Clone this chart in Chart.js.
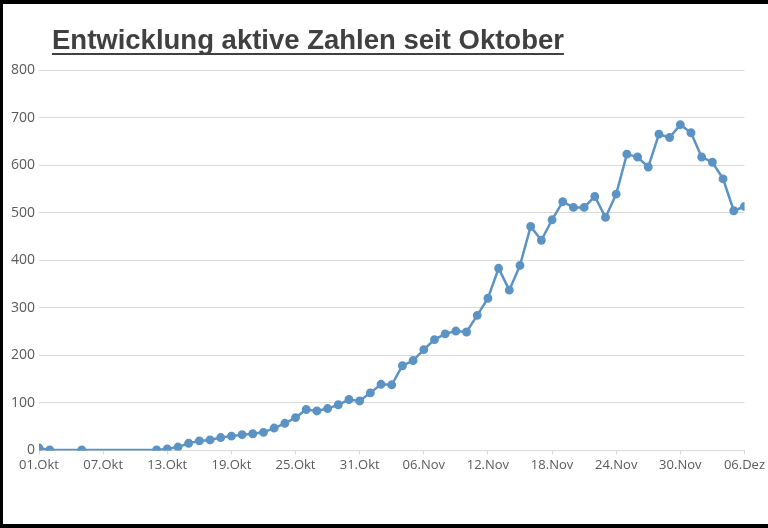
<!DOCTYPE html>
<html><head><meta charset="utf-8">
<script src="https://cdn.jsdelivr.net/npm/chart.js@4"></script>
<style>
html,body{margin:0;padding:0;background:#000;}
#wrap{position:absolute;left:3px;top:4px;width:765px;height:520px;background:#fff;}
</style></head><body>
<div id="wrap"><canvas id="c" width="765" height="520"></canvas></div>
<script>
const tickLabels=["01.Okt","07.Okt","13.Okt","19.Okt","25.Okt","31.Okt","06.Nov","12.Nov","18.Nov","24.Nov","30.Nov","06.Dez"];
// day offsets since 01.Okt
const days=[0,1,4,11,12,13,14,15,16,17,18,19,20,21,22,23,24,25,26,27,28,29,30,31,32,33,34,35,36,37,38,39,40,41,42,43,44,45,46,47,48,49,50,51,52,53,54,55,56,57,58,59,60,61,62,63,64,65,66];
const values=[5,1,1,1,3,7,15,20,22,27,30,33,35,38,47,57,69,86,83,88,96,107,104,121,139,138,178,189,212,233,245,251,249,284,320,383,337,389,471,442,485,523,511,511,534,490,539,623,617,596,665,658,685,668,617,606,571,504,513];
const titleText="Entwicklung aktive Zahlen seit Oktober";
const titlePlugin={id:'t',afterDraw(ch){const c=ch.ctx;c.save();c.font='bold 27.5px "Liberation Sans", Arial';c.fillStyle='#404040';c.textBaseline='alphabetic';const w=c.measureText(titleText).width;const x=49,y=45;c.fillText(titleText,x,y);c.fillRect(x,y+4,w,2);c.restore();}};
new Chart(document.getElementById('c'),{type:'line',
data:{datasets:[{data:days.map((d,i)=>({x:d,y:values[i]})),borderColor:'#5b93c5',backgroundColor:'#5b93c5',borderWidth:2.5,pointRadius:3.2,pointHoverRadius:3.2,tension:0}]},
options:{responsive:false,animation:false,layout:{padding:{top:66,right:14,left:4,bottom:48}},
plugins:{legend:{display:false},tooltip:{enabled:false}},
scales:{x:{type:'linear',min:0,max:66,afterBuildTicks(ax){ax.ticks=tickLabels.map((_,i)=>({value:i*6}));},
ticks:{autoSkip:false,maxRotation:0,color:'#595959',font:{family:'"Open Sans"',size:13},callback:(v)=>tickLabels[Math.round(v/6)]},
grid:{display:true,drawOnChartArea:false,drawTicks:true,tickLength:4,color:'#d9d9d9'},border:{color:'#d9d9d9'}},
y:{min:0,max:800,ticks:{stepSize:100,color:'#595959',font:{family:'"Open Sans"',size:14},padding:4},grid:{color:'#d9d9d9',drawTicks:false},border:{display:false}}}}
,plugins:[titlePlugin]});
</script></body></html>
